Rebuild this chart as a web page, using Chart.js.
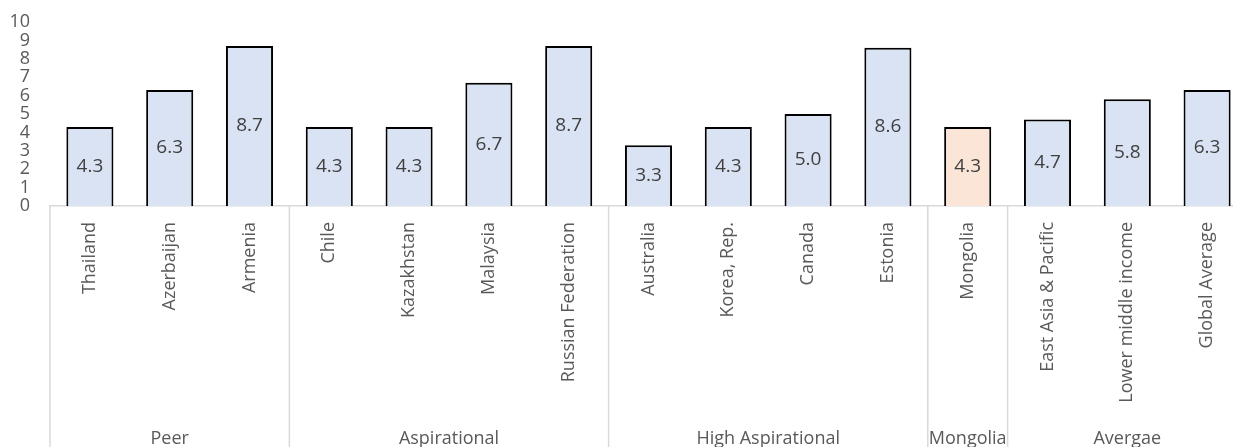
<!DOCTYPE html>
<html>
<head>
<meta charset="utf-8">
<script src="https://cdn.jsdelivr.net/npm/chart.js@4/dist/chart.umd.min.js"></script>
<style>
  html, body { margin: 0; padding: 0; background: #fff; overflow: hidden; }
  #wrap { width: 1233px; height: 447px; overflow: hidden; }
</style>
</head>
<body>
<div id="wrap"><canvas id="chart" width="1247" height="447"></canvas></div>
<script>
// countries and benchmarks, left to right
const labels = [
  'Thailand', 'Azerbaijan', 'Armenia',
  'Chile', 'Kazakhstan', 'Malaysia', 'Russian Federation',
  'Australia', 'Korea, Rep.', 'Canada', 'Estonia',
  'Mongolia',
  'East Asia & Pacific', 'Lower middle income', 'Global Average'
];
const values = [4.3, 6.3, 8.7, 4.3, 4.3, 6.7, 8.7, 3.3, 4.3, 5.0, 8.6, 4.3, 4.7, 5.8, 6.3];

// comparison groups under the axis
const groupNames = ['Peer', 'Aspirational', 'High Aspirational', 'Mongolia', 'Avergae'];
const groupSizes = [3, 4, 4, 1, 3];

const yTicks = [0, 1, 2, 3, 4, 5, 6, 7, 8, 9, 10];

const BLUE = '#dae3f3';
const PEACH = '#fbe5d6';
const TEXT = '#595959';

Chart.defaults.font.family = "'Open Sans', sans-serif";

const barColors = labels.map(l => l === 'Mongolia' ? PEACH : BLUE);

// value printed in the middle of each bar
const barValues = {
  id: 'barValues',
  afterDatasetsDraw(chart) {
    const ctx = chart.ctx;
    const meta = chart.getDatasetMeta(0);
    ctx.save();
    ctx.font = "19px 'Open Sans'";
    ctx.fillStyle = '#404040';
    ctx.textAlign = 'center';
    ctx.textBaseline = 'middle';
    meta.data.forEach((bar, i) => {
      ctx.fillText(values[i].toFixed(1), bar.x, (bar.y + bar.base) / 2);
    });
    ctx.restore();
  }
};

// group separators and group names below the rotated labels
const groupAxis = {
  id: 'groupAxis',
  afterDraw(chart) {
    const ctx = chart.ctx;
    const x = chart.scales.x;
    const top = chart.chartArea.bottom;
    const step = x.getPixelForValue(1) - x.getPixelForValue(0);
    let start = 0;
    ctx.save();
    ctx.strokeStyle = '#d9d9d9';
    ctx.lineWidth = 1.5;
    ctx.font = "18px 'Open Sans'";
    ctx.fillStyle = TEXT;
    ctx.textAlign = 'center';
    ctx.textBaseline = 'alphabetic';
    groupNames.forEach((name, gi) => {
      const left = x.getPixelForValue(start) - step / 2;
      const right = left + step * groupSizes[gi];
      ctx.beginPath();
      ctx.moveTo(left, top);
      ctx.lineTo(left, chart.height);
      ctx.stroke();
      ctx.fillText(name, (left + right) / 2, 444);
      start += groupSizes[gi];
    });
    ctx.restore();
  }
};

new Chart(document.getElementById('chart'), {
  type: 'bar',
  data: {
    labels,
    datasets: [{
      data: values,
      backgroundColor: barColors,
      borderColor: '#000',
      borderWidth: 2,
      barPercentage: 0.59,
      categoryPercentage: 1
    }]
  },
  options: {
    responsive: false,
    animation: false,
    layout: { padding: { top: 22, right: 0, left: 0, bottom: 0 } },
    plugins: { legend: { display: false }, tooltip: { enabled: false } },
    scales: {
      x: {
        grid: { display: false, drawTicks: false },
        border: { display: true, color: '#d9d9d9', width: 1.5 },
        ticks: {
          color: TEXT,
          font: { size: 18 },
          minRotation: 90,
          maxRotation: 90,
          padding: 16,
          autoSkip: false
        },
        afterFit: s => { s.height = 241; s.paddingTop = 0; }
      },
      y: {
        min: 0,
        max: 10,
        grid: { display: false, drawTicks: false },
        border: { display: false },
        afterBuildTicks: s => { s.ticks = yTicks.map(v => ({ value: v })); },
        ticks: { color: TEXT, font: { size: 18 }, padding: 20, autoSkip: false },
        afterFit: s => { s.width = 50; s.paddingTop = 0; s.paddingBottom = 0; }
      }
    }
  },
  plugins: [barValues, groupAxis]
});
</script>
</body>
</html>
